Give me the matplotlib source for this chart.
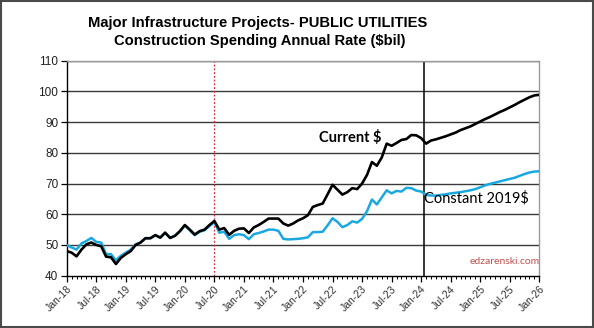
import matplotlib
matplotlib.use("Agg")
import matplotlib.pyplot as plt
from matplotlib.patches import Rectangle
from matplotlib.ticker import MultipleLocator

# ---- data (monthly, Jan-18 .. Jan-26) ----
current_2018 = [48.0, 47.5, 46.3, 48.5, 50.2, 50.8, 50.0, 49.6, 46.2, 46.0, 43.8, 45.8]
current_2019 = [47.0, 48.0, 50.0, 50.8, 52.2, 52.2, 53.2, 52.4, 54.0, 52.3, 53.0, 54.5]
current_2020 = [56.5, 55.0, 53.4, 54.5, 55.0, 56.5, 57.8, 55.0, 55.5, 53.3, 54.6, 55.3]
current_2021 = [55.4, 53.9, 55.7, 56.5, 57.5, 58.6, 58.6, 58.6, 57.0, 56.3, 57.0, 58.0]
current_2022 = [58.7, 59.7, 62.4, 63.0, 63.5, 66.5, 69.6, 68.0, 66.4, 67.2, 68.5, 68.2]
current_2023 = [70.0, 72.8, 77.0, 75.8, 78.5, 83.0, 82.3, 83.2, 84.2, 84.5, 85.8, 85.7]
current_2024 = [84.8, 83.0, 84.0, 84.4, 84.9, 85.4, 86.0, 86.6, 87.4, 88.0, 88.6, 89.4]
current_2025 = [90.2, 91.0, 91.7, 92.5, 93.3, 94.0, 94.8, 95.6, 96.5, 97.3, 98.1, 98.7]
current_2026 = [98.9]

constant_2018 = [50.0, 49.2, 48.5, 50.5, 51.3, 52.3, 51.0, 50.8, 47.0, 47.0, 45.0, 46.5]
constant_2019 = [47.5, 48.5, 50.2, 50.8, 52.2, 52.2, 53.2, 52.4, 54.0, 52.3, 53.0, 54.5]
constant_2020 = [56.3, 54.8, 53.2, 54.3, 54.8, 56.2, 57.4, 54.0, 54.3, 52.0, 53.2, 53.5]
constant_2021 = [53.2, 51.9, 53.5, 53.9, 54.4, 55.0, 55.0, 54.6, 52.0, 51.8, 51.9, 52.0]
constant_2022 = [52.2, 52.5, 54.2, 54.2, 54.3, 56.4, 58.7, 57.5, 55.8, 56.5, 57.7, 57.3]
constant_2023 = [58.5, 61.0, 64.8, 63.2, 65.5, 67.8, 66.8, 67.6, 67.4, 68.6, 68.5, 67.7]
constant_2024 = [67.4, 66.3, 66.1, 66.1, 66.3, 66.5, 66.8, 67.0, 67.2, 67.5, 67.8, 68.2]
constant_2025 = [68.8, 69.4, 69.9, 70.3, 70.7, 71.1, 71.5, 71.9, 72.5, 73.1, 73.6, 73.9]
constant_2026 = [74.0]

current = (current_2018 + current_2019 + current_2020 + current_2021 + current_2022
           + current_2023 + current_2024 + current_2025 + current_2026)
constant = (constant_2018 + constant_2019 + constant_2020 + constant_2021 + constant_2022
            + constant_2023 + constant_2024 + constant_2025 + constant_2026)

tick_labels = ["Jan-18", "Jul-18", "Jan-19", "Jul-19", "Jan-20", "Jul-20", "Jan-21",
               "Jul-21", "Jan-22", "Jul-22", "Jan-23", "Jul-23", "Jan-24", "Jul-24",
               "Jan-25", "Jul-25", "Jan-26"]
months = list(range(len(current)))
red_marker_month = 30      # Jul-20
black_marker_month = 72.5  # early 2024

title_line1 = "Major Infrastructure Projects- PUBLIC UTILITIES"
title_line2 = "Construction Spending Annual Rate ($bil)"

fig = plt.figure(figsize=(5.94, 3.28), dpi=100)
fig.patch.set_facecolor("white")
ax = fig.add_axes([66.7/594, 1-275.7/328, (539.3-66.7)/594, (275.7-60.7)/328])

ax.set_xlim(0, 96)
ax.set_ylim(40, 110)
ax.yaxis.set_major_locator(MultipleLocator(10))
for v in range(50, 111, 10):
    ax.axhline(v, color="#3a3a3a", lw=1.0, zorder=1)

ax.axvline(red_marker_month, color="#d03030", lw=0.9, ls=(0, (1.5, 1.5)), zorder=2)
ax.axvline(black_marker_month, color="black", lw=1.1, zorder=2)

ax.plot(months, constant, color="#1AA8E0", lw=1.8, zorder=3)
ax.plot(months, current, color="black", lw=1.9, zorder=4)

ax.set_xticks(list(range(0, 97, 6)))
ax.set_xticks(list(range(0, 97, 1)), minor=True)
ax.set_xticklabels(tick_labels, rotation=45, ha="right", rotation_mode="anchor",
                   fontsize=7.5, family="Liberation Sans", color="#333333")
ax.tick_params(axis="x", which="major", length=4, width=0.9, color="black", pad=2)
ax.tick_params(axis="x", which="minor", length=2, width=0.7, color="black")
ax.tick_params(axis="y", which="major", length=4, width=0.9, pad=2, labelsize=8.5,
               labelcolor="#222222")
for lab in ax.get_yticklabels():
    lab.set_family("Liberation Sans")

for s in ["left", "bottom"]:
    ax.spines[s].set_color("black")
    ax.spines[s].set_linewidth(1.0)
ax.spines["right"].set_color("#9a9a9a")
ax.spines["top"].set_color("#9a9a9a")
ax.spines["right"].set_linewidth(1.0)
ax.spines["top"].set_linewidth(1.0)

ax.text(57.5, 85, "Current $", fontsize=10.5, family="Lato", fontweight="bold",
        ha="center", va="center", zorder=5)
ax.text(83.2, 65.3, "Constant 2019$", fontsize=10.5, family="Lato",
        ha="center", va="center", zorder=5)
ax.text(96, 44.6, "edzarenski.com", fontsize=7.5, family="Lato", color="#C0504D",
        ha="right", va="center", zorder=5)

fig.text(258/594, 1-23.5/328, title_line1, ha="center", va="center", fontsize=10.6,
         fontweight="bold", family="Liberation Sans")
fig.text(260/594, 1-40.5/328, title_line2, ha="center", va="center", fontsize=10.6,
         fontweight="bold", family="Liberation Sans")

fig.patches.append(Rectangle((0.002, 0.003), 0.996, 0.994, transform=fig.transFigure,
                             fill=False, edgecolor="#4a4a4a", lw=1.5))

fig.savefig("out.png", dpi=100)
